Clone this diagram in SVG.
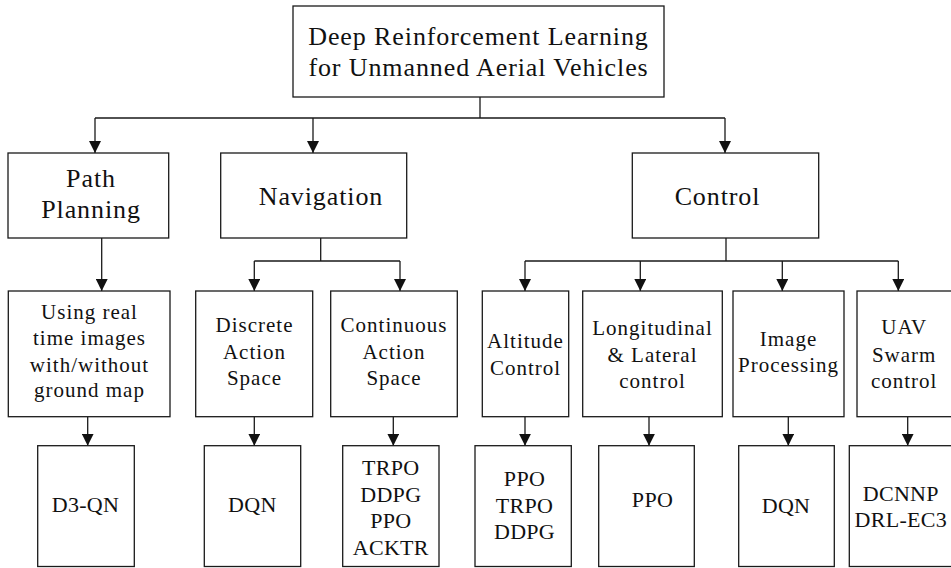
<svg xmlns="http://www.w3.org/2000/svg" width="951" height="568" viewBox="0 0 951 568">
  <style>
    .box { fill: #ffffff; stroke: #1a1a1a; stroke-width: 1.3; }
    .link { fill: none; stroke: #1a1a1a; stroke-width: 1.3; }
    text { font-family: "Liberation Serif", "Times New Roman", serif; fill: #111111; text-anchor: middle; }
    .t1 { font-size: 26px; letter-spacing: 0.9px; }
    .t2 { font-size: 21px; letter-spacing: 1px; }
    .t3 { font-size: 22px; letter-spacing: 0.3px; }
  </style>
  <defs>
    <marker id="arrow" markerUnits="userSpaceOnUse" markerWidth="12" markerHeight="12" viewBox="0 0 12 12" refX="12" refY="6" orient="auto">
      <path d="M0,0 L12,6 L0,12 Z" fill="#111111"/>
    </marker>
  </defs>

  <rect width="951" height="568" fill="#ffffff"/>

  <!-- connectors -->
  <g id="connectors">
    <path class="link" d="M480,97 V118 M95,118 H725"/>
    <path class="link" d="M95,118 V153" marker-end="url(#arrow)"/>
    <path class="link" d="M313,118 V153" marker-end="url(#arrow)"/>
    <path class="link" d="M725,118 V153" marker-end="url(#arrow)"/>

    <path class="link" d="M101.7,238 V291" marker-end="url(#arrow)"/>

    <path class="link" d="M320.7,238 V261 M254.3,261 H400"/>
    <path class="link" d="M254.3,261 V291" marker-end="url(#arrow)"/>
    <path class="link" d="M400,261 V291" marker-end="url(#arrow)"/>

    <path class="link" d="M726,238 V261 M525,261 H898.3"/>
    <path class="link" d="M525,261 V291" marker-end="url(#arrow)"/>
    <path class="link" d="M640.3,261 V291" marker-end="url(#arrow)"/>
    <path class="link" d="M782.3,261 V291" marker-end="url(#arrow)"/>
    <path class="link" d="M898.3,261 V291" marker-end="url(#arrow)"/>

    <path class="link" d="M87.7,416.7 V445.7" marker-end="url(#arrow)"/>
    <path class="link" d="M254.3,416.7 V445.7" marker-end="url(#arrow)"/>
    <path class="link" d="M393.3,416.7 V445.7" marker-end="url(#arrow)"/>
    <path class="link" d="M525,416.7 V445.7" marker-end="url(#arrow)"/>
    <path class="link" d="M649,416.7 V445.7" marker-end="url(#arrow)"/>
    <path class="link" d="M788.3,416.7 V445.7" marker-end="url(#arrow)"/>
    <path class="link" d="M907.7,416.7 V445.7" marker-end="url(#arrow)"/>
  </g>

  <!-- root -->
  <g id="root">
    <rect class="box" x="293" y="6" width="371" height="91"/>
    <text class="t1" x="478.5" y="45">Deep Reinforcement Learning</text>
    <text class="t1" x="478.5" y="76">for Unmanned Aerial Vehicles</text>
  </g>

  <!-- first level -->
  <g id="path-planning">
    <rect class="box" x="8" y="153" width="160.7" height="85"/>
    <text class="t1" x="91" y="187">Path</text>
    <text class="t1" x="91" y="218">Planning</text>
  </g>
  <g id="navigation">
    <rect class="box" x="220.7" y="153" width="186" height="85"/>
    <text class="t1" x="321" y="205">Navigation</text>
  </g>
  <g id="control">
    <rect class="box" x="632.3" y="153" width="186.4" height="85"/>
    <text class="t1" x="717.5" y="205">Control</text>
  </g>

  <!-- second level -->
  <g id="real-time-images">
    <rect class="box" x="8.3" y="291" width="161.7" height="125.7"/>
    <text class="t2" x="89.5" y="319.3">Using real</text>
    <text class="t2" x="89.5" y="345.3">time images</text>
    <text class="t2" x="89.5" y="371.7">with/without</text>
    <text class="t2" x="89.5" y="397.3">ground map</text>
  </g>
  <g id="discrete-action">
    <rect class="box" x="195.7" y="291" width="117" height="125.7"/>
    <text class="t2" x="254.5" y="332.3">Discrete</text>
    <text class="t2" x="254.5" y="359">Action</text>
    <text class="t2" x="254.5" y="385">Space</text>
  </g>
  <g id="continuous-action">
    <rect class="box" x="330.7" y="291" width="126.6" height="125.7"/>
    <text class="t2" x="394" y="332.3">Continuous</text>
    <text class="t2" x="394" y="359">Action</text>
    <text class="t2" x="394" y="385">Space</text>
  </g>
  <g id="altitude-control">
    <rect class="box" x="482.3" y="291" width="86.4" height="125.7"/>
    <text class="t2" x="525.5" y="348.3">Altitude</text>
    <text class="t2" x="525.5" y="375">Control</text>
  </g>
  <g id="longitudinal-lateral">
    <rect class="box" x="582.7" y="291" width="139.6" height="125.7"/>
    <text class="t2" x="652.5" y="335">Longitudinal</text>
    <text class="t2" x="652.5" y="361.7">&amp; Lateral</text>
    <text class="t2" x="652.5" y="387.7">control</text>
  </g>
  <g id="image-processing">
    <rect class="box" x="733" y="291" width="111" height="125.7"/>
    <text class="t2" x="788.5" y="345.7">Image</text>
    <text class="t2" x="788.5" y="371.7">Processing</text>
  </g>
  <g id="swarm-control">
    <rect class="box" x="857" y="291" width="100" height="125.7"/>
    <text class="t2" x="904.2" y="334.3">UAV</text>
    <text class="t2" x="904.2" y="361.7">Swarm</text>
    <text class="t2" x="904.2" y="387.7">control</text>
  </g>

  <!-- algorithms -->
  <g id="alg-d3qn">
    <rect class="box" x="37.7" y="445.7" width="96.6" height="120.8"/>
    <text class="t3" x="85.5" y="511.7">D3-QN</text>
  </g>
  <g id="alg-dqn-nav">
    <rect class="box" x="204.3" y="445.7" width="96.4" height="120.8"/>
    <text class="t3" x="252.3" y="511.7">DQN</text>
  </g>
  <g id="alg-continuous">
    <rect class="box" x="342.7" y="445.7" width="96.3" height="120.8"/>
    <text class="t3" x="390.8" y="475">TRPO</text>
    <text class="t3" x="390.8" y="501.7">DDPG</text>
    <text class="t3" x="390.8" y="528.3">PPO</text>
    <text class="t3" x="390.8" y="555">ACKTR</text>
  </g>
  <g id="alg-altitude">
    <rect class="box" x="475" y="445.7" width="96.3" height="120.8"/>
    <text class="t3" x="524.5" y="486">PPO</text>
    <text class="t3" x="524.5" y="512.7">TRPO</text>
    <text class="t3" x="524.5" y="539">DDPG</text>
  </g>
  <g id="alg-ppo">
    <rect class="box" x="598.7" y="445.7" width="95.6" height="120.8"/>
    <text class="t3" x="652.5" y="506.7">PPO</text>
  </g>
  <g id="alg-dqn-image">
    <rect class="box" x="738.7" y="445.7" width="95.6" height="120.8"/>
    <text class="t3" x="786" y="512.7">DQN</text>
  </g>
  <g id="alg-swarm">
    <rect class="box" x="849.3" y="445.7" width="110" height="120.8"/>
    <text class="t3" x="900.8" y="500.7">DCNNP</text>
    <text class="t3" x="900.8" y="526.7">DRL-EC3</text>
  </g>
</svg>
